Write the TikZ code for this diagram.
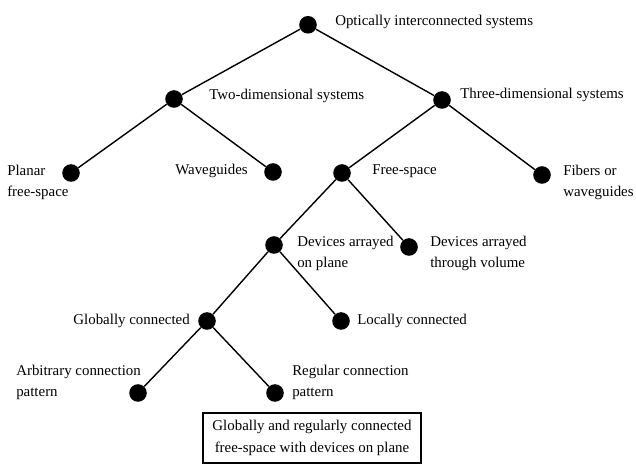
\documentclass[tikz,border=0pt]{standalone}
\usepackage{fontspec}
\setmainfont{Liberation Serif}
\tikzset{
  % knot of the tree
  tnode/.style={circle, fill=black, minimum size=0.44cm, inner sep=0pt},
  % branch between two knots
  branch/.style={line width=1pt, black},
  % labels
  lbl/.style={font=\fontsize{10.6}{15.6}\selectfont, inner sep=0pt, align=left},
  % result box
  resbox/.style={draw, line width=0.8pt, minimum width=5.45cm, minimum height=1.25cm,
    align=center, inner sep=0pt, font=\fontsize{10.6}{15.6}\selectfont},
}
\begin{document}
\begin{tikzpicture}
  \useasboundingbox (0,0) rectangle (15.9,11.6);
  % knots
  \node[tnode] (root) at (7.7,10.98) {};
  \node[tnode] (twod) at (4.35,9.125) {};
  \node[tnode] (threed) at (11.05,9.1) {};
  \node[tnode] (planar) at (1.775,7.275) {};
  \node[tnode] (waveg) at (6.825,7.3) {};
  \node[tnode] (free) at (8.55,7.275) {};
  \node[tnode] (fibers) at (13.55,7.225) {};
  \node[tnode] (plane) at (6.85,5.475) {};
  \node[tnode] (volume) at (10.225,5.425) {};
  \node[tnode] (global) at (5.175,3.575) {};
  \node[tnode] (local) at (8.525,3.575) {};
  \node[tnode] (arb) at (3.45,1.775) {};
  \node[tnode] (reg) at (6.875,1.775) {};
  % branches
  \draw[branch] (twod)--(root)--(threed);
  \draw[branch] (planar)--(twod)--(waveg);
  \draw[branch] (free)--(threed)--(fibers);
  \draw[branch] (plane)--(free)--(volume);
  \draw[branch] (global)--(plane)--(local);
  \draw[branch] (arb)--(global)--(reg);
  % labels (base = last line)
  \node[lbl, anchor=base west] (roottxt) at (8.375,10.95) {Optically interconnected systems};
  \node[lbl, anchor=base west] (twodtxt) at (5.225,9.1) {Two-dimensional systems};
  \node[lbl, anchor=base west] (threedtxt) at (11.5,9.125) {Three-dimensional systems};
  \node[lbl, anchor=base west] (planartxt) at (0.175,6.675) {Planar\\free-space};
  \node[lbl, anchor=base east] (wavegtxt) at (6.2,7.225) {Waveguides};
  \node[lbl, anchor=base west] (freetxt) at (9.3,7.225) {Free-space};
  \node[lbl, anchor=base west] (fiberstxt) at (14.075,6.675) {Fibers or\\waveguides};
  \node[lbl, anchor=base west] (planetxt) at (7.425,4.9) {Devices arrayed\\on plane};
  \node[lbl, anchor=base west] (volumetxt) at (10.75,4.9) {Devices arrayed\\through volume};
  \node[lbl, anchor=base east] (globaltxt) at (4.75,3.475) {Globally connected};
  \node[lbl, anchor=base west] (localtxt) at (8.925,3.475) {Locally connected};
  \node[lbl, anchor=base west] (arbtxt) at (0.4,1.675) {Arbitrary connection\\pattern};
  \node[lbl, anchor=base west] (regtxt) at (7.3,1.675) {Regular connection\\pattern};
  \node[resbox] (result) at (7.8,0.65) {Globally and regularly connected\\free-space with devices on plane};
\end{tikzpicture}
\end{document}
